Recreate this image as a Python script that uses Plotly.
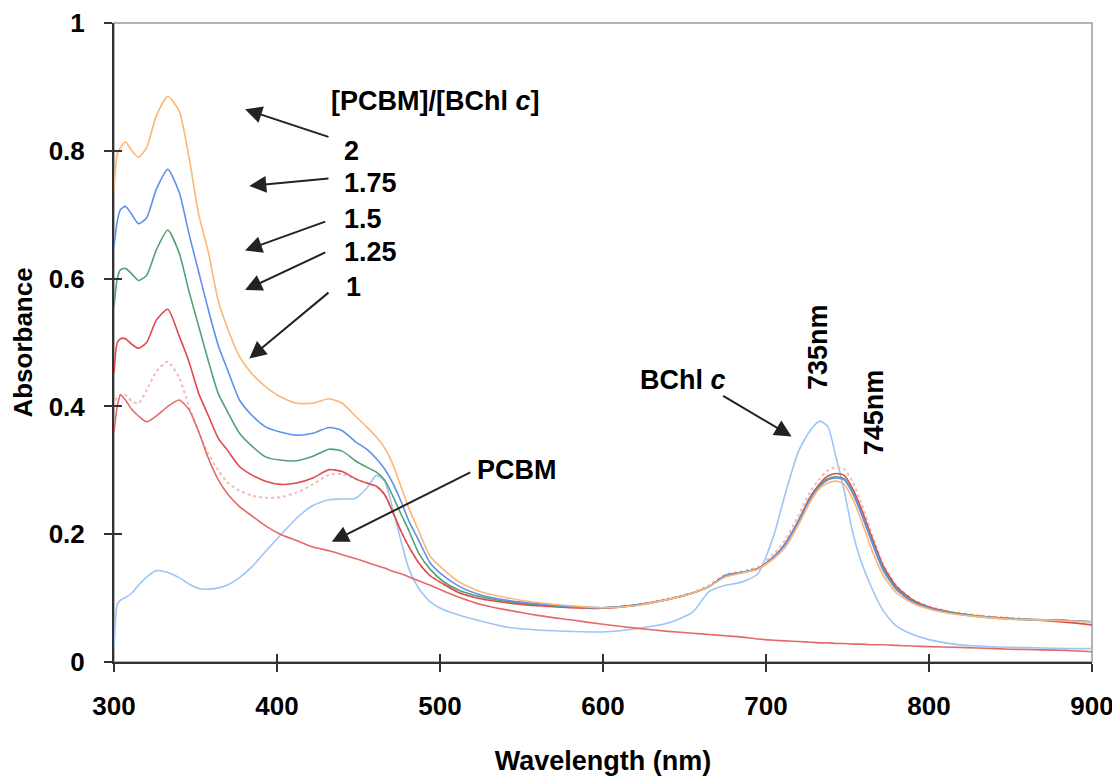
import plotly.graph_objects as go

wavelength = [300, 302, 304, 307, 311, 315, 320, 326, 333, 340, 346, 352, 358, 364, 370, 377, 385, 393,
              402, 412, 422, 432, 440, 448, 455, 461, 466, 471, 476, 481, 487, 494, 502, 512, 525, 540,
              560, 580, 600, 620, 640, 655, 665, 675, 685, 695, 705, 712, 720, 727, 733, 738, 743, 748,
              753, 758, 765, 772, 780, 790, 800, 815, 830, 850, 870, 885, 900]

bchl_c = [0.02, 0.09, 0.097, 0.101, 0.108, 0.12, 0.133, 0.143, 0.14, 0.132, 0.122, 0.115, 0.114, 0.116,
          0.121, 0.132, 0.15, 0.173, 0.198, 0.225, 0.245, 0.254, 0.255, 0.256, 0.272, 0.292, 0.283, 0.24,
          0.19, 0.145, 0.115, 0.094, 0.082, 0.073, 0.064, 0.055, 0.05, 0.048, 0.047, 0.052, 0.061, 0.078,
          0.11, 0.12, 0.125, 0.138, 0.2, 0.265, 0.33, 0.362, 0.377, 0.368, 0.32, 0.268, 0.205, 0.16, 0.115,
          0.08, 0.056, 0.043, 0.035, 0.028, 0.025, 0.023, 0.022, 0.021, 0.021]

pcbm = [0.36, 0.40, 0.418, 0.41, 0.395, 0.385, 0.376, 0.385, 0.40, 0.41, 0.395, 0.36, 0.318, 0.285,
        0.262, 0.243, 0.228, 0.213, 0.20, 0.19, 0.18, 0.174, 0.168, 0.162, 0.156, 0.151, 0.147, 0.142,
        0.138, 0.133, 0.127, 0.12, 0.111, 0.101, 0.09, 0.082, 0.073, 0.066, 0.059, 0.053, 0.048, 0.045,
        0.043, 0.041, 0.039, 0.036, 0.034, 0.033, 0.032, 0.031, 0.03, 0.03, 0.029, 0.029, 0.028, 0.028,
        0.027, 0.027, 0.026, 0.025, 0.024, 0.023, 0.022, 0.02, 0.019, 0.018, 0.016]

ratio_1 = [0.40, 0.415, 0.418, 0.418, 0.408, 0.405, 0.425, 0.455, 0.47, 0.445, 0.40, 0.36, 0.325, 0.30,
           0.28, 0.268, 0.26, 0.257, 0.258, 0.265, 0.278, 0.293, 0.294, 0.287, 0.28, 0.275, 0.262, 0.235,
           0.205, 0.18, 0.155, 0.135, 0.122, 0.108, 0.099, 0.093, 0.088, 0.086, 0.085, 0.089, 0.099, 0.109,
           0.12, 0.137, 0.142, 0.149, 0.17, 0.192, 0.23, 0.266, 0.287, 0.3, 0.305, 0.302, 0.283, 0.252,
           0.2, 0.153, 0.12, 0.098, 0.087, 0.078, 0.073, 0.069, 0.066, 0.065, 0.062]

ratio_125 = [0.452, 0.50, 0.506, 0.506, 0.497, 0.491, 0.50, 0.535, 0.552, 0.51, 0.47, 0.42, 0.385, 0.35,
             0.33, 0.306, 0.292, 0.283, 0.278, 0.28, 0.288, 0.301, 0.298, 0.287, 0.28, 0.275, 0.262, 0.235,
             0.205, 0.18, 0.155, 0.135, 0.122, 0.108, 0.099, 0.093, 0.088, 0.085, 0.084, 0.089, 0.098, 0.108,
             0.118, 0.135, 0.14, 0.146, 0.165, 0.186, 0.222, 0.258, 0.279, 0.291, 0.295, 0.292, 0.272, 0.243,
             0.195, 0.15, 0.118, 0.097, 0.086, 0.077, 0.072, 0.068, 0.065, 0.062, 0.058]

ratio_15 = [0.556, 0.60, 0.614, 0.616, 0.607, 0.597, 0.605, 0.645, 0.676, 0.64, 0.58, 0.525, 0.47, 0.42,
            0.39, 0.358, 0.337, 0.321, 0.316, 0.315, 0.322, 0.333, 0.33, 0.315, 0.305, 0.297, 0.285, 0.26,
            0.232, 0.205, 0.17, 0.145, 0.126, 0.112, 0.102, 0.095, 0.09, 0.086, 0.085, 0.089, 0.098, 0.108,
            0.118, 0.135, 0.14, 0.146, 0.165, 0.185, 0.22, 0.255, 0.276, 0.287, 0.29, 0.287, 0.267, 0.237,
            0.19, 0.146, 0.115, 0.095, 0.085, 0.077, 0.072, 0.068, 0.066, 0.065, 0.063]

ratio_175 = [0.65, 0.69, 0.708, 0.713, 0.70, 0.686, 0.695, 0.74, 0.771, 0.735, 0.67, 0.61, 0.55, 0.495,
             0.455, 0.41, 0.385, 0.368, 0.36, 0.355, 0.358, 0.367, 0.362, 0.345, 0.333, 0.318, 0.302, 0.28,
             0.252, 0.22, 0.19, 0.155, 0.135, 0.118, 0.105, 0.097, 0.091, 0.087, 0.085, 0.089, 0.098, 0.108,
             0.118, 0.135, 0.14, 0.146, 0.165, 0.185, 0.22, 0.254, 0.275, 0.285, 0.288, 0.285, 0.265, 0.235,
             0.187, 0.143, 0.113, 0.094, 0.084, 0.076, 0.071, 0.067, 0.066, 0.065, 0.063]

ratio_2 = [0.74, 0.795, 0.805, 0.814, 0.80, 0.79, 0.805, 0.855, 0.885, 0.862, 0.79, 0.70, 0.64, 0.565,
           0.52, 0.478, 0.45, 0.431, 0.415, 0.405, 0.405, 0.412, 0.405, 0.385, 0.368, 0.352, 0.335, 0.31,
           0.275, 0.24, 0.205, 0.165, 0.145, 0.125, 0.11, 0.101, 0.093, 0.088, 0.085, 0.088, 0.098, 0.108,
           0.118, 0.133, 0.139, 0.145, 0.162, 0.18, 0.215, 0.25, 0.272, 0.28, 0.283, 0.278, 0.256, 0.225,
           0.175, 0.135, 0.108, 0.092, 0.083, 0.075, 0.071, 0.067, 0.066, 0.064, 0.063]

x_ticks = [300, 400, 500, 600, 700, 800, 900]
y_ticks = [0, 0.2, 0.4, 0.6, 0.8, 1]
y_tick_text = ["0", "0.2", "0.4", "0.6", "0.8", "1"]

FONT = "Liberation Sans, Arial, sans-serif"

series = [
    ("BChl c", bchl_c, "#9CC6F5", "solid", 1.6),
    ("PCBM", pcbm, "#E46A6A", "solid", 1.6),
    ("1", ratio_1, "#F4B9B9", "dot", 2.0),
    ("1.25", ratio_125, "#E04A4A", "solid", 1.6),
    ("1.5", ratio_15, "#55A074", "solid", 1.6),
    ("1.75", ratio_175, "#5F90EE", "solid", 1.6),
    ("2", ratio_2, "#FDB673", "solid", 1.6),
]

fig = go.Figure()
for i, (name, vals, col, dash, w) in enumerate(series):
    fig.add_trace(go.Scatter(
        x=wavelength, y=vals, mode="lines", name=name,
        line=dict(color=col, width=w, dash=dash, shape="spline", smoothing=0.6),
        xaxis="x2" if i == 1 else "x", yaxis="y2" if i == 1 else "y",
        showlegend=False, hoverinfo="skip"))

common_x = dict(range=[300, 900], tickvals=x_ticks, showgrid=False, zeroline=False,
                showline=True, linecolor="#333333", linewidth=2, tickcolor="#333333", tickwidth=1.5,
                ticklen=8, automargin=False)
common_y = dict(range=[0, 1], tickvals=y_ticks, showgrid=False, zeroline=False,
                showline=True, linecolor="#333333", linewidth=2, tickcolor="#333333", tickwidth=1.5,
                ticklen=8, automargin=False)

fig.update_layout(
    width=1112, height=769,
    margin=dict(l=106, r=28, t=15, b=115, autoexpand=False),
    paper_bgcolor="white", plot_bgcolor="white",
    font=dict(family=FONT, color="black"),
    xaxis=dict(**common_x, ticks="outside",
               ticktext=[str(v) for v in x_ticks],
               tickfont=dict(size=26, family=FONT, weight="bold"),
               ticklabelstandoff=12,
               title=dict(text="Wavelength (nm)", font=dict(size=27, family=FONT, weight="bold"),
                          standoff=31)),
    yaxis=dict(**common_y, ticks="outside", ticktext=y_tick_text,
               tickfont=dict(size=26, family=FONT, weight="bold"),
               ticklabelstandoff=14,
               title=dict(text="Absorbance", font=dict(size=26, family=FONT, weight="bold"),
                          standoff=10)),
    xaxis2=dict(**common_x, ticks="inside", overlaying="x", anchor="y2", matches="x",
                showticklabels=False),
    yaxis2=dict(**common_y, ticks="inside", overlaying="y", anchor="x2", matches="y",
                showticklabels=False),
)

fig.add_shape(type="rect", xref="paper", yref="paper", x0=0, x1=1, y0=0, y1=1,
              line=dict(color="#9a9a9a", width=1.5), layer="below")

ann_font = dict(size=27, family=FONT, color="black")

def label(text, x, y, xanchor="left", angle=0):
    fig.add_annotation(x=x, y=y, xref="x", yref="y", text="<b>" + text + "</b>",
                       showarrow=False, xanchor=xanchor, yanchor="middle",
                       font=ann_font, textangle=angle)

def arrow(x_tail, y_tail, x_head, y_head):
    fig.add_annotation(x=x_head, y=y_head, ax=x_tail, ay=y_tail, xref="x", yref="y",
                       axref="x", ayref="y", text="", showarrow=True, arrowhead=2,
                       arrowsize=1.7, arrowwidth=2, arrowcolor="#222222")

label("[PCBM]/[BChl <i>c</i>]", 432, 0.878)
label("2", 440, 0.799)
label("1.75", 440, 0.750)
label("1.5", 440, 0.694)
label("1.25", 440, 0.642)
label("1", 441, 0.587)
arrow(432.5, 0.821, 380.4, 0.865)
arrow(432.5, 0.757, 383, 0.745)
arrow(430.5, 0.690, 380.4, 0.644)
arrow(430.5, 0.642, 380.4, 0.582)
arrow(432.5, 0.580, 383, 0.475)

label("PCBM", 521.5, 0.30)
arrow(519.5, 0.298, 433.6, 0.188)

label("BChl <i>c</i>", 621.5, 0.441)
arrow(672.8, 0.418, 715.7, 0.353)
label("735nm", 731.9, 0.493, xanchor="center", angle=-90)
label("745nm", 766, 0.39, xanchor="center", angle=-90)

fig.write_html("out.html")
